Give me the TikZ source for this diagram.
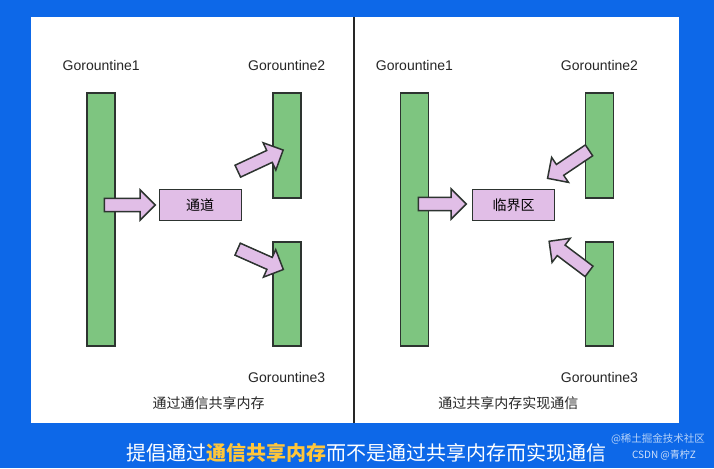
\documentclass[tikz,border=0pt]{standalone}
\usepackage{fontspec}
\setmainfont{Liberation Sans}
\newfontfamily\cjk{Noto Sans CJK SC}
\usepackage{xcolor}
\usetikzlibrary{shapes.arrows,positioning}

\definecolor{bgblue}{RGB}{13,104,232}
\definecolor{barfill}{RGB}{126,197,128}
\definecolor{pinkfill}{RGB}{225,190,231}
\definecolor{edgedark}{RGB}{45,52,48}
\definecolor{hlgold}{RGB}{255,198,58}

\begin{document}
\begin{tikzpicture}[x=1pt,y=-1pt,node distance=18pt,
  gbar/.style={draw=edgedark,line width=1.6pt,fill=barfill,minimum width=28pt,inner sep=0pt},
  shared/.style={draw=edgedark,line width=1pt,fill=pinkfill,minimum width=82pt,minimum height=31pt,
    inner sep=0pt,font=\cjk\fontsize{14}{16}\selectfont},
  push/.style={single arrow,draw=edgedark,line width=1.5pt,fill=pinkfill,inner xsep=0pt,inner ysep=5.8pt,
    single arrow head extend=8.5pt,minimum height=50pt},
  gname/.style={font=\fontsize{14}{16}\selectfont,text=black!85},
  caption/.style={font=\cjk\fontsize{14}{16}\selectfont,text=black!85}]
  \fill[bgblue] (0,0) rectangle (714,468);
  \useasboundingbox (0,0) rectangle (714,468);
  \fill[white] (31,17) rectangle (679,423);
  \draw[line width=1.6pt,black!85] (354,17) -- (354,423);

  % left: share memory by communicating
  \node[gbar,minimum height=253pt] (chanA) at (101.2,219.5) {};
  \node[gbar,minimum height=105pt] (chanB) at (286.7,145.5) {};
  \node[gbar,minimum height=104pt] (chanC) at (286.7,294) {};
  \node[shared] (chan) at (200.2,205) {通道};
  \node[push,minimum height=51pt] (chanIn) at (126.5,205) {};
  \node[push,rotate=25] (chanOutB) at (257.5,162) {};
  \node[push,rotate=-24] (chanOutC) at (257.5,258) {};
  \node[gname,above=of chanA] (nameA) {Gorountine1};
  \node[gname,above=of chanB] (nameB) {Gorountine2};
  \node[gname,below=22pt of chanC] (nameC) {Gorountine3};
  \node[caption] (capLeft) at (208.7,403) {通过通信共享内存};

  % right: communicate by sharing memory
  \node[gbar,minimum height=253pt] (lockA) at (414.4,219.5) {};
  \node[gbar,minimum height=105pt] (lockB) at (599.5,145.5) {};
  \node[gbar,minimum height=104pt] (lockC) at (599.5,294) {};
  \node[shared] (lock) at (513.5,205) {临界区};
  \node[push,minimum height=48pt] (lockInA) at (439,204) {};
  \node[push,rotate=214] (lockInB) at (571,162.5) {};
  \node[push,rotate=143] (lockInC) at (571.7,258.3) {};
  \node[gname,above=of lockA] (lnameA) {Gorountine1};
  \node[gname,above=of lockB] (lnameB) {Gorountine2};
  \node[gname,below=22pt of lockC] (lnameC) {Gorountine3};
  \node[caption] (capRight) at (508.3,403) {通过共享内存实现通信};

  % banner
  \node[font=\cjk\fontsize{20}{24}\selectfont,text=white] (motto) at (366.5,453)
    {提倡通过{\bfseries\color{hlgold}通信共享内存}而不是通过共享内存而实现通信};
  \node[font=\cjk\fontsize{10.5}{12}\selectfont,text=white!70!bgblue] (mark1) at (658,439) {@稀土掘金技术社区};
  \node[font=\cjk\fontsize{10}{12}\selectfont,text=white!80!bgblue] (mark2) at (664,455) {CSDN @青柠Z};
\end{tikzpicture}
\end{document}
